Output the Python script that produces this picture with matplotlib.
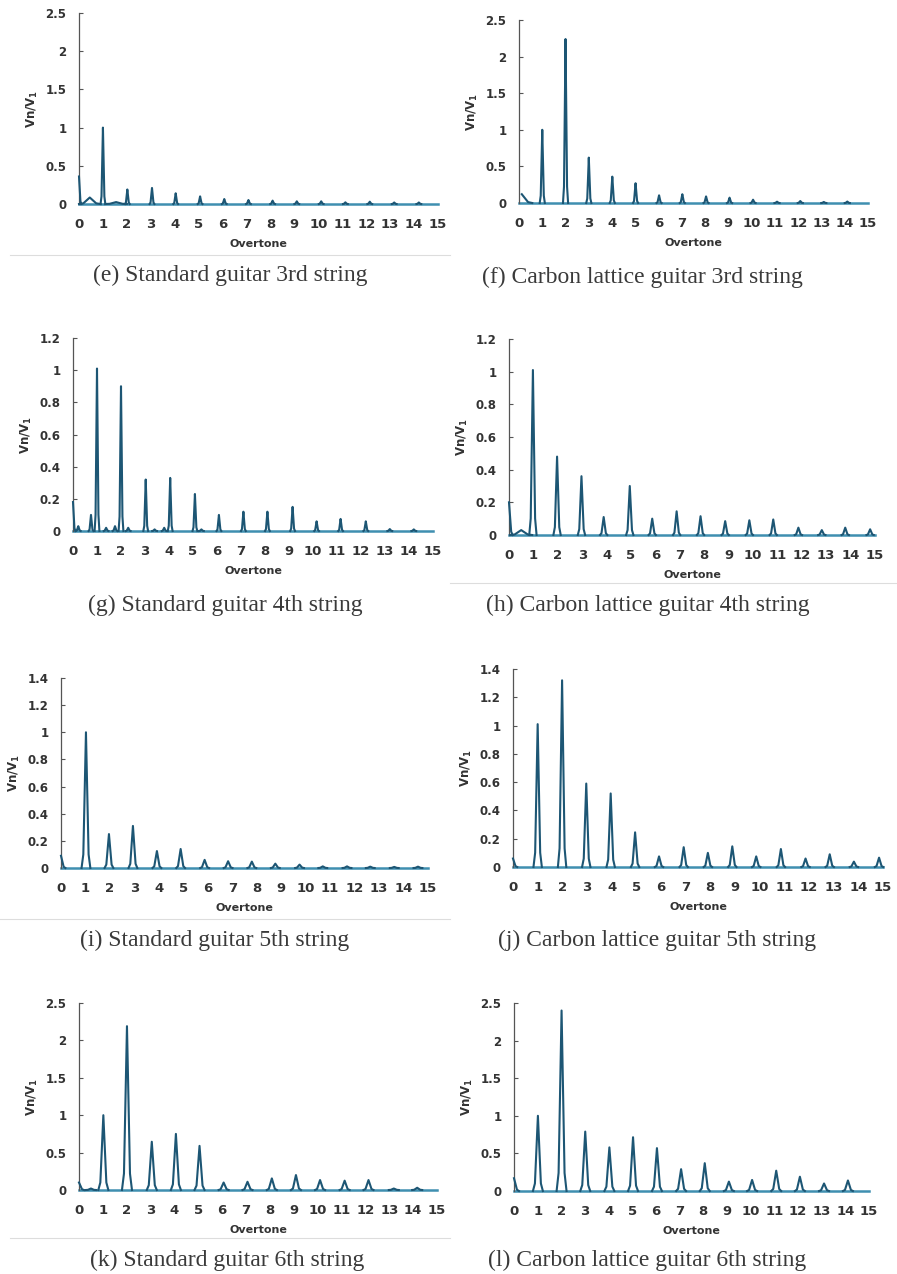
import matplotlib.pyplot as plt
import numpy as np
from matplotlib.lines import Line2D

# Spectra of guitar strings: overtone position and relative amplitude Vn/V1
overtones = list(range(16))

# (e) Standard guitar 3rd string
e_pos = [0.0, 1.0, 2.02, 3.05, 4.04, 5.06, 6.07, 7.08, 8.09, 9.1, 10.12, 11.13, 12.15, 13.17, 14.2]
e_amp = [0.36, 1.0, 0.19, 0.21, 0.14, 0.10, 0.065, 0.052, 0.044, 0.035, 0.035, 0.022, 0.03, 0.02, 0.02]
e_bump_pos = [0.45, 1.55]
e_bump_amp = [0.085, 0.025]

# (f) Carbon lattice guitar 3rd string
f_pos = [1.0, 2.0, 3.0, 4.01, 5.01, 6.02, 7.02, 8.04, 9.05, 10.06, 11.09, 12.09, 13.1, 14.11]
f_amp = [1.0, 2.24, 0.62, 0.36, 0.27, 0.105, 0.12, 0.09, 0.073, 0.045, 0.018, 0.027, 0.014, 0.02]
f_bump_pos = [0.12]
f_bump_amp = [0.12]

# (g) Standard guitar 4th string
g_pos = [0.0, 0.22, 0.75, 1.0, 1.38, 1.75, 2.0, 2.3, 3.03, 3.4, 3.8, 4.05, 5.08, 5.35, 6.08,
         7.1, 8.1, 9.15, 10.15, 11.15, 12.2, 13.2, 14.2]
g_amp = [0.18, 0.03, 0.1, 1.01, 0.02, 0.03, 0.9, 0.02, 0.32, 0.01, 0.02, 0.33, 0.23, 0.01, 0.1,
         0.12, 0.12, 0.15, 0.06, 0.075, 0.06, 0.012, 0.01]

# (h) Carbon lattice guitar 4th string
h_pos = [0.0, 0.98, 1.97, 2.97, 3.88, 4.95, 5.87, 6.87, 7.85, 8.86, 9.85, 10.83, 11.86, 12.82, 13.78, 14.8]
h_amp = [0.2, 1.01, 0.48, 0.36, 0.11, 0.3, 0.1, 0.145, 0.115, 0.085, 0.09, 0.095, 0.045, 0.03, 0.045, 0.035]
h_bump_pos = [0.5]
h_bump_amp = [0.03]

# (i) Standard guitar 5th string
i_pos = [0.0, 1.02, 1.96, 2.94, 3.92, 4.89, 5.87, 6.83, 7.8, 8.76, 9.75, 10.7, 11.69, 12.64, 13.62, 14.59]
i_amp = [0.09, 1.0, 0.25, 0.31, 0.125, 0.14, 0.06, 0.05, 0.047, 0.032, 0.025, 0.012, 0.012, 0.01, 0.008, 0.01]

# (j) Carbon lattice guitar 5th string
j_pos = [0.0, 1.0, 1.99, 2.97, 3.96, 4.95, 5.92, 6.92, 7.9, 8.89, 9.86, 10.86, 11.86, 12.84, 13.82, 14.84]
j_amp = [0.06, 1.01, 1.32, 0.59, 0.52, 0.245, 0.075, 0.14, 0.1, 0.146, 0.075, 0.127, 0.06, 0.09, 0.038, 0.066]

# (k) Standard guitar 6th string
k_pos = [0.0, 0.5, 1.02, 2.01, 3.05, 4.06, 5.05, 6.06, 7.06, 8.08, 9.09, 10.1, 11.13, 12.13, 13.19, 14.17]
k_amp = [0.1, 0.02, 1.0, 2.19, 0.645, 0.75, 0.59, 0.1, 0.11, 0.155, 0.2, 0.133, 0.125, 0.133, 0.02, 0.03]

# (l) Carbon lattice guitar 6th string
l_pos = [0.0, 1.01, 2.01, 3.01, 4.03, 5.03, 6.04, 7.06, 8.06, 9.08, 10.06, 11.08, 12.08, 13.1, 14.11]
l_amp = [0.17, 1.0, 2.4, 0.79, 0.58, 0.715, 0.57, 0.29, 0.37, 0.125, 0.147, 0.27, 0.19, 0.1, 0.14]

captions = ["(e) Standard guitar 3rd string", "(f) Carbon lattice guitar 3rd string",
            "(g) Standard guitar 4th string", "(h) Carbon lattice guitar 4th string",
            "(i) Standard guitar 5th string", "(j) Carbon lattice guitar 5th string",
            "(k) Standard guitar 6th string", "(l) Carbon lattice guitar 6th string"]

W, H = 897, 1274
fig = plt.figure(figsize=(W / 100, H / 100), dpi=100)

# layout in pixels: left, right, top, bottom of each plot, caption centre, peak half width, y max, y step
panels = [
    (e_pos, e_amp, e_bump_pos, e_bump_amp, (79, 438, 13, 204), (230, 275), 0.10, 2.5, 0.5),
    (f_pos, f_amp, f_bump_pos, f_bump_amp, (519, 868, 20, 203), (642, 277), 0.11, 2.5, 0.5),
    (g_pos, g_amp, [], [], (73, 433, 338, 531), (225, 605), 0.10, 1.2, 0.2),
    (h_pos, h_amp, h_bump_pos, h_bump_amp, (509, 875, 339, 535), (648, 605), 0.15, 1.2, 0.2),
    (i_pos, i_amp, [], [], (61, 428, 678, 868), (215, 940), 0.18, 1.4, 0.2),
    (j_pos, j_amp, [], [], (513, 883, 669, 867), (657, 940), 0.17, 1.4, 0.2),
    (k_pos, k_amp, [], [], (79, 437, 1003, 1190), (227, 1260), 0.21, 2.5, 0.5),
    (l_pos, l_amp, [], [], (514, 869, 1003, 1191), (647, 1260), 0.21, 2.5, 0.5),
]

# peak outline template (fraction of half width, fraction of height)
shape_x = [-1.0, -0.6, -0.3, 0.0, 0.3, 0.6, 1.0]
shape_y = [0.0, 0.1, 0.55, 1.0, 0.55, 0.1, 0.0]

line_col = "#1d5674"
base_col = "#3f8fb0"
text_col = "#333333"


def draw_peaks(ax, pos, amp, half):
    for p, a in zip(pos, amp):
        xs = [p + half * s for s in shape_x]
        ys = [a * s for s in shape_y]
        keep = [k for k in range(len(xs)) if xs[k] >= 0]
        ax.plot([xs[k] for k in keep], [ys[k] for k in keep], color=line_col,
                lw=1.5, clip_on=False, zorder=3, solid_joinstyle="round")


for (pos, amp, bpos, bamp, box, cap, half, ymax, ystep), caption in zip(panels, captions):
    l, r, t, b = box
    ax = fig.add_axes([l / W, 1 - b / H, (r - l) / W, (b - t) / H])
    ax.set_facecolor("none")
    ax.plot([0, 15], [0, 0], color=base_col, lw=1.8, clip_on=False, zorder=2)
    draw_peaks(ax, bpos, bamp, 0.45)
    draw_peaks(ax, pos, amp, half)

    ax.set_xlim(0, 15)
    ax.set_ylim(0, ymax)
    yt = np.arange(0, ymax + 1e-6, ystep)
    ax.set_yticks(yt)
    ax.set_yticklabels(["%g" % round(v, 1) for v in yt])
    ax.set_xticks(overtones)
    ax.set_xticklabels([str(v) for v in overtones])

    for s in ["top", "right", "bottom"]:
        ax.spines[s].set_visible(False)
    ax.spines["left"].set_color("#555555")
    ax.spines["left"].set_linewidth(0.9)
    ax.tick_params(axis="y", direction="in", length=3, width=0.8, color="#555555",
                   pad=9, labelsize=8.5, labelcolor=text_col)
    ax.tick_params(axis="x", length=0, pad=10, labelsize=9.5, labelcolor=text_col)
    for lab in ax.get_xticklabels() + ax.get_yticklabels():
        lab.set_fontweight("bold")

    ax.set_xlabel("Overtone", fontsize=8, fontweight="bold", color=text_col, labelpad=6)
    ax.set_ylabel(r"Vn/V$_\mathbf{1}$", fontsize=8.5, fontweight="bold", color=text_col, labelpad=4)

    fig.text(cap[0] / W, 1 - cap[1] / H, caption, ha="center", va="center",
             fontsize=17, family="Liberation Serif", color="#3a3a3a")

# faint frame lines left below the source images
for x0, x1, y in [(10, 450, 255), (450, 897, 583), (0, 450, 919), (10, 450, 1238)]:
    fig.add_artist(Line2D([x0 / W, x1 / W], [1 - y / H, 1 - y / H], color="#dddddd", lw=0.8))

fig.savefig("out.png", dpi=100, facecolor="white")
